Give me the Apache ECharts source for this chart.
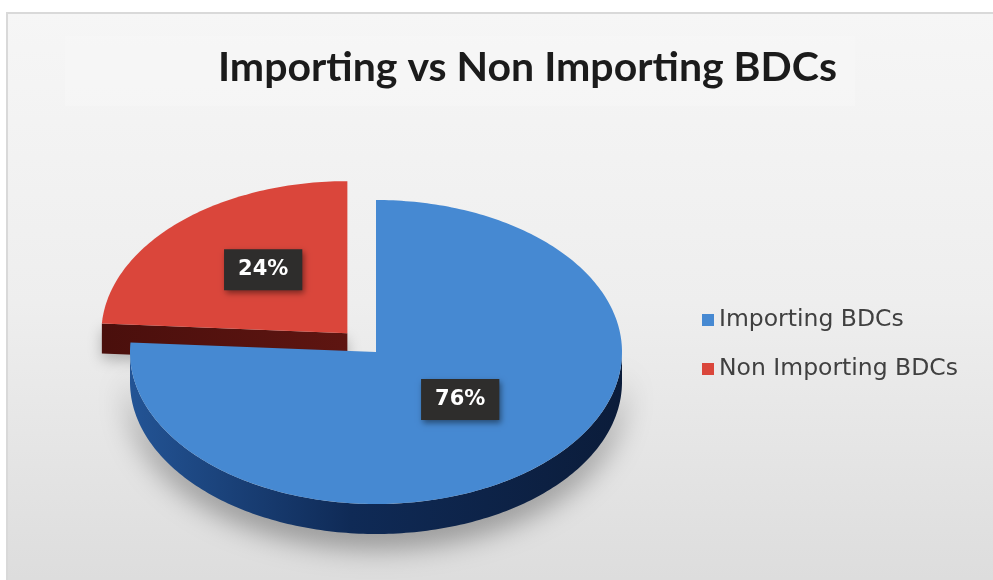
<!DOCTYPE html>
<html>
<head>
<meta charset="utf-8">
<script src="https://cdn.jsdelivr.net/npm/echarts@6/dist/echarts.min.js"></script>
<style>
  html, body { margin: 0; padding: 0; background: #ffffff; }
  #chart { width: 993px; height: 580px; }
</style>
</head>
<body>
<div id="chart"></div>
<script>
// Slice categories and their shares (percent)
const categories = ['Importing BDCs', 'Non Importing BDCs'];
const shares = [76, 24];
// Colours of the top faces and cut faces
const topColors = ['#4689d2', '#da463b'];
const cutColors = ['#143466', '#5e1511'];
const explodedIndex = 1;

const total = shares.reduce((a, b) => a + b, 0);
const startAngles = [];
(function () {
  let acc = 0;
  shares.forEach(v => { startAngles.push(acc / total * 360); acc += v; });
})();

// Elliptical (tilted) pie geometry
const PIE = { cx: 376, cy: 352, rx: 246, ry: 152, depth: 30, explode: 0.17 };
const RAD = Math.PI / 180;

function makePoint(ox, oy) {
  return function (deg, dy) {
    return [PIE.cx + ox + PIE.rx * Math.sin(deg * RAD),
            PIE.cy + oy - PIE.ry * Math.cos(deg * RAD) + (dy || 0)];
  };
}

function arc(pt, a1, a2, dy) {
  const out = [];
  const steps = Math.max(2, Math.ceil(Math.abs(a2 - a1)));
  for (let i = 0; i <= steps; i++) out.push(pt(a1 + (a2 - a1) * i / steps, dy));
  return out;
}

function renderSlice(idx) {
  return function (params, api) {
    const value = api.value(0);
    const a1 = startAngles[idx];
    const a2 = a1 + value / total * 360;
    const mid = (a1 + a2) / 2;
    let ox = 0, oy = 0;
    if (idx === explodedIndex) {
      ox = PIE.rx * PIE.explode * Math.sin(mid * RAD);
      oy = -PIE.ry * PIE.explode * Math.cos(mid * RAD);
    }
    const pt = makePoint(ox, oy);
    const c = [PIE.cx + ox, PIE.cy + oy];
    const d = PIE.depth;
    const children = [];

    // outer wall (front half only)
    const w1 = Math.max(a1, 90), w2 = Math.min(a2, 270);
    if (w2 > w1) {
      const topArc = arc(pt, w1, w2, 0);
      const botArc = arc(pt, w2, w1, d);
      children.push({
        type: 'polygon',
        shape: { points: topArc.concat(botArc) },
        style: {
          fill: idx === 0 ? {
            type: 'linear', x: 0, y: 0, x2: 1, y2: 0,
            colorStops: [
              { offset: 0, color: '#235495' },
              { offset: 0.45, color: '#0f2a56' },
              { offset: 1, color: '#0b1c3a' }
            ]
          } : cutColors[idx],
          shadowColor: 'rgba(0,0,0,0.4)',
          shadowBlur: 30,
          shadowOffsetY: 12
        }
      });
    }

    // visible radial cut faces
    if (Math.sin(a1 * RAD) < 0) {
      const p = pt(a1, 0);
      children.push({
        type: 'polygon',
        shape: { points: [c, p, [p[0], p[1] + d], [c[0], c[1] + d]] },
        style: {
          fill: {
            type: 'linear', x: 0, y: 0, x2: 1, y2: 0,
            colorStops: [
              { offset: 0, color: '#4a0f0c' },
              { offset: 1, color: cutColors[idx] }
            ]
          },
          shadowColor: 'rgba(0,0,0,0.25)',
          shadowBlur: 14,
          shadowOffsetY: 6
        }
      });
    }
    if (Math.sin(a2 * RAD) > 0) {
      const p = pt(a2, 0);
      children.push({
        type: 'polygon',
        shape: { points: [c, p, [p[0], p[1] + d], [c[0], c[1] + d]] },
        style: { fill: cutColors[idx] }
      });
    }

    // top face
    children.push({
      type: 'polygon',
      shape: { points: [c].concat(arc(pt, a1, a2, 0)) },
      style: { fill: topColors[idx] }
    });

    // value label
    const lp = [c[0] + PIE.rx * 0.5 * Math.sin(mid * RAD),
                c[1] - PIE.ry * 0.5 * Math.cos(mid * RAD) - 8];
    children.push({
      type: 'text',
      x: lp[0], y: lp[1],
      style: {
        text: Math.round(value / total * 100) + '%',
        fill: '#ffffff',
        font: 'bold 21px "DejaVu Sans", sans-serif',
        align: 'center', verticalAlign: 'middle',
        textAlign: 'center', textVerticalAlign: 'middle',
        backgroundColor: '#2e2d2c',
        padding: [10, 14, 10, 14],
        shadowColor: 'rgba(0,0,0,0.45)',
        shadowBlur: 6,
        shadowOffsetX: 2,
        shadowOffsetY: 3
      }
    });

    return { type: 'group', children: children };
  };
}

const chart = echarts.init(document.getElementById('chart'), null, { renderer: 'canvas' });

const series = categories.map((name, i) => ({
  type: 'custom',
  name: name,
  coordinateSystem: 'none',
  z: i === explodedIndex ? 2 : 3,
  itemStyle: { color: topColors[i] },
  silent: true,
  data: [[shares[i]]],
  renderItem: renderSlice(i)
}));

chart.setOption({
  animation: false,
  backgroundColor: '#ffffff',
  graphic: [
    {
      type: 'rect', z: -10, silent: true,
      shape: { x: 7, y: 13, width: 1000, height: 580 },
      style: {
        fill: {
          type: 'linear', x: 0, y: 0, x2: 0, y2: 1,
          colorStops: [
            { offset: 0, color: '#f6f6f6' },
            { offset: 0.5, color: '#eeeeee' },
            { offset: 1, color: '#dcdcdc' }
          ]
        },
        stroke: '#d9d9d9', lineWidth: 2
      }
    },
    {
      type: 'rect', z: -9, silent: true,
      shape: { x: 65, y: 36, width: 790, height: 70 },
      style: { fill: 'rgba(255,255,255,0.18)' }
    }
  ],
  title: {
    text: 'Importing vs Non Importing BDCs',
    left: 213,
    top: 42,
    textStyle: {
      fontFamily: 'Lato, sans-serif',
      fontWeight: 'bold',
      fontSize: 41,
      color: '#1b1b1b'
    }
  },
  legend: {
    orient: 'vertical',
    left: 697,
    top: 303,
    icon: 'rect',
    itemWidth: 12,
    itemHeight: 12,
    itemGap: 25,
    data: categories,
    textStyle: {
      fontFamily: '"DejaVu Sans", sans-serif',
      fontSize: 23.5,
      color: '#404040'
    }
  },
  series: series
});
</script>
</body>
</html>
